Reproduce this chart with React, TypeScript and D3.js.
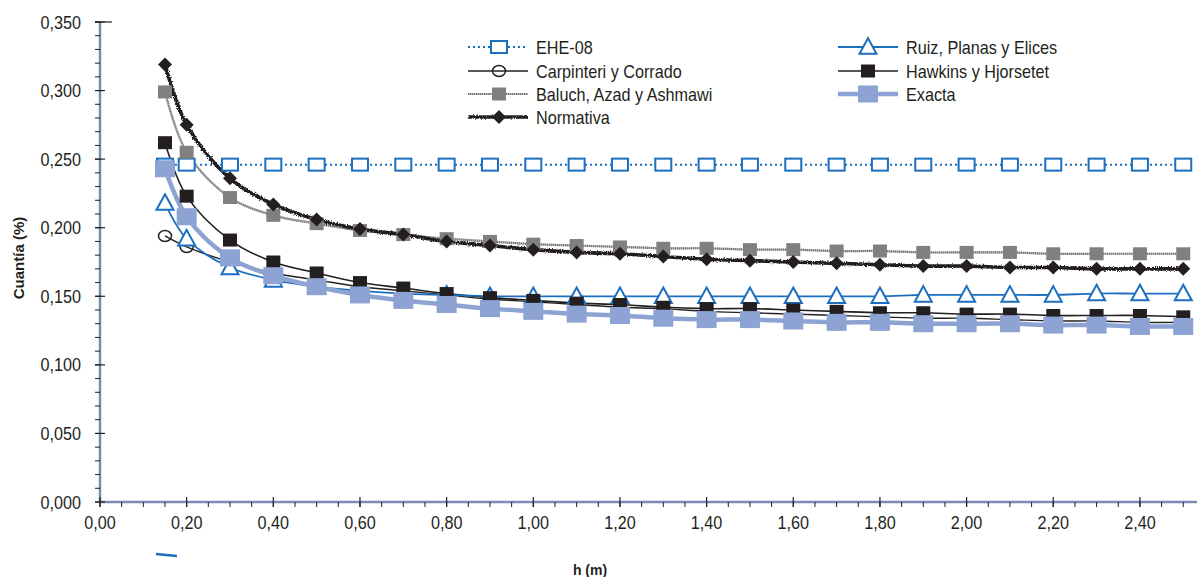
import React from "react";
import * as d3 from "d3";

const H = [0.15, 0.2, 0.3, 0.4, 0.5, 0.6, 0.7, 0.8, 0.9, 1.0, 1.1, 1.2, 1.3, 1.4, 1.5, 1.6, 1.7, 1.8, 1.9, 2.0, 2.1, 2.2, 2.3, 2.4, 2.5];

const ehe08 = [0.246, 0.246, 0.246, 0.246, 0.246, 0.246, 0.246, 0.246, 0.246, 0.246, 0.246, 0.246, 0.246, 0.246, 0.246, 0.246, 0.246, 0.246, 0.246, 0.246, 0.246, 0.246, 0.246, 0.246, 0.246];
const carpinteri = [0.194, 0.186, 0.175, 0.167, 0.162, 0.157, 0.154, 0.151, 0.148, 0.146, 0.144, 0.142, 0.141, 0.139, 0.138, 0.137, 0.136, 0.135, 0.134, 0.134, 0.133, 0.132, 0.132, 0.131, 0.131];
const baluch = [0.299, 0.255, 0.222, 0.209, 0.203, 0.198, 0.195, 0.192, 0.190, 0.188, 0.187, 0.186, 0.185, 0.185, 0.184, 0.184, 0.183, 0.183, 0.182, 0.182, 0.182, 0.181, 0.181, 0.181, 0.181];
const normativa = [0.319, 0.275, 0.236, 0.217, 0.206, 0.199, 0.195, 0.190, 0.187, 0.184, 0.182, 0.181, 0.179, 0.177, 0.176, 0.175, 0.174, 0.173, 0.172, 0.172, 0.171, 0.171, 0.170, 0.170, 0.170];
const ruiz = [0.218, 0.192, 0.171, 0.162, 0.157, 0.154, 0.152, 0.151, 0.150, 0.150, 0.150, 0.150, 0.150, 0.150, 0.150, 0.150, 0.150, 0.150, 0.151, 0.151, 0.151, 0.151, 0.152, 0.152, 0.152];
const hawkins = [0.262, 0.223, 0.191, 0.175, 0.167, 0.160, 0.156, 0.152, 0.149, 0.147, 0.145, 0.144, 0.142, 0.141, 0.141, 0.140, 0.139, 0.138, 0.138, 0.137, 0.137, 0.136, 0.136, 0.136, 0.135];
const exacta = [0.243, 0.208, 0.178, 0.165, 0.157, 0.151, 0.147, 0.144, 0.141, 0.139, 0.137, 0.136, 0.134, 0.133, 0.133, 0.132, 0.131, 0.131, 0.130, 0.130, 0.130, 0.129, 0.129, 0.128, 0.128];

const yTickLabels = ["0,000", "0,050", "0,100", "0,150", "0,200", "0,250", "0,300", "0,350"];
const xTickLabels = ["0,00", "0,20", "0,40", "0,60", "0,80", "1,00", "1,20", "1,40", "1,60", "1,80", "2,00", "2,20", "2,40"];

const W = 1197;
const HT = 577;
const FONT = "'Liberation Sans', Arial, sans-serif";
const SX = 0.9;

const x = d3.scaleLinear().domain([0, 2.6]).range([100, 100 + 2.6 * 433.3]);
const y = d3.scaleLinear().domain([0, 0.35]).range([502, 22]);

const BLUE = "#1b6fbe";
const LBLUE = "#8da3d3";
const GREY = "#808080";
const BLACK = "#231f20";

function pts(vals: number[]): [number, number][] {
  return vals.map((v, i) => [H[i], v]);
}

const lineGen = d3
  .line<[number, number]>()
  .x((d) => x(d[0]))
  .y((d) => y(d[1]))
  .curve(d3.curveCatmullRom.alpha(0.5));

function NText({ x0, y0, anchor, size, children }: any) {
  return (
    <text transform={`translate(${x0},${y0}) scale(${SX},1)`} textAnchor={anchor || "start"} fontSize={size} fill="#231f20">
      {children}
    </text>
  );
}

function Square({ cx, cy, w, h, fill, stroke, sw }: any) {
  return <rect x={cx - w / 2} y={cy - h / 2} width={w} height={h} fill={fill} stroke={stroke || "none"} strokeWidth={sw || 0} />;
}
function Tri({ cx, cy, s }: any) {
  const hh = s * 0.8;
  return (
    <path
      d={`M${cx},${cy - hh / 2 - 2} L${cx + s / 2},${cy + hh / 2} L${cx - s / 2},${cy + hh / 2} Z`}
      fill="white"
      stroke={BLUE}
      strokeWidth={2}
    />
  );
}
function Diamond({ cx, cy, s }: any) {
  return <path d={`M${cx},${cy - s / 2} L${cx + s / 2},${cy} L${cx},${cy + s / 2} L${cx - s / 2},${cy} Z`} fill={BLACK} />;
}
function Circ({ cx, cy }: any) {
  return <ellipse cx={cx} cy={cy} rx={6.5} ry={5.5} fill="none" stroke={BLACK} strokeWidth={1.5} />;
}

export default function App() {
  const yMinor = d3.range(0, 0.3501, 0.01);
  const xMinor = d3.range(0, 2.75, 0.05);
  const xMajor = xTickLabels.map((_, i) => i * 0.2);
  const yMajor = yTickLabels.map((_, i) => i * 0.05);

  const legendL = 468;
  const legendR = 838;
  const rows = [47, 71, 94, 117];

  return (
    <svg width={W} height={HT} style={{ position: "absolute", left: 0, top: 0, background: "white" }} fontFamily={FONT}>
      <defs>
        <filter id="rough" filterUnits="userSpaceOnUse" x={0} y={0} width={W} height={HT}>
          <feTurbulence type="fractalNoise" baseFrequency="0.8" numOctaves="2" seed="3" result="n" />
          <feDisplacementMap in="SourceGraphic" in2="n" scale="3.5" xChannelSelector="R" yChannelSelector="G" />
        </filter>
        <clipPath id="plot">
          <rect x={100} y={0} width={W - 100} height={503} />
        </clipPath>
      </defs>

      {/* axes */}
      <line x1={100} y1={22} x2={100} y2={503} stroke="#7a8cb6" strokeWidth={2.5} />
      <line x1={99} y1={502} x2={W} y2={502} stroke="#7a8cb6" strokeWidth={2.5} />
      <line x1={95} y1={22} x2={112} y2={22} stroke={BLACK} strokeWidth={1.2} />
      {yMinor.map((v, i) => (
        <line key={"ym" + i} x1={95} x2={100} y1={y(v)} y2={y(v)} stroke={BLACK} strokeWidth={1} />
      ))}
      {yMajor.map((v, i) => (
        <line key={"yM" + i} x1={95} x2={105} y1={y(v)} y2={y(v)} stroke={BLACK} strokeWidth={1.2} />
      ))}
      {xMinor.map((v, i) => (
        <line key={"xm" + i} x1={x(v)} x2={x(v)} y1={502} y2={507} stroke={BLACK} strokeWidth={1} />
      ))}
      {xMajor.map((v, i) => (
        <line key={"xM" + i} x1={x(v)} x2={x(v)} y1={497} y2={507} stroke={BLACK} strokeWidth={1.2} />
      ))}
      {yTickLabels.map((t, i) => (
        <NText key={"yl" + i} x0={81} y0={y(yMajor[i]) + 6.5} anchor="end" size={18}>
          {t}
        </NText>
      ))}
      {xTickLabels.map((t, i) => (
        <NText key={"xl" + i} x0={x(xMajor[i])} y0={529} anchor="middle" size={18}>
          {t}
        </NText>
      ))}
      <text x={590} y={575} textAnchor="middle" fontSize={14} fontWeight="bold" fill="#231f20">
        h (m)
      </text>
      <text transform={`translate(24,258) rotate(-90)`} textAnchor="middle" fontSize={15} fontWeight="bold" fill="#231f20">
        Cuantía (%)
      </text>
      <line x1={156} y1={554} x2={177} y2={556} stroke={BLUE} strokeWidth={2.5} />

      <g clipPath="url(#plot)">
        <path d={lineGen(pts(ehe08)) || ""} fill="none" stroke={BLUE} strokeWidth={2} strokeDasharray="2 3" />
        <path d={lineGen(pts(baluch)) || ""} fill="none" stroke="#b5b5b5" strokeWidth={2.2} />
        <path d={lineGen(pts(baluch)) || ""} fill="none" stroke="#777" strokeWidth={2.2} strokeDasharray="1 1" />
        <path d={lineGen(pts(normativa)) || ""} fill="none" stroke={BLACK} strokeWidth={3.6} filter="url(#rough)" />
        <path d={lineGen(pts(carpinteri)) || ""} fill="none" stroke={BLACK} strokeWidth={1.4} />
        <path d={lineGen(pts(hawkins)) || ""} fill="none" stroke={BLACK} strokeWidth={1.6} />
        <path d={lineGen(pts(ruiz)) || ""} fill="none" stroke={BLUE} strokeWidth={1.8} />
        <path d={lineGen(pts(exacta)) || ""} fill="none" stroke={LBLUE} strokeWidth={4.5} />

        {ehe08.map((v, i) => (
          <Square key={"e" + i} cx={x(H[i])} cy={y(v)} w={16} h={12} fill="white" stroke={BLUE} sw={2} />
        ))}
        {baluch.map((v, i) => (
          <Square key={"b" + i} cx={x(H[i])} cy={y(v)} w={14} h={13} fill={GREY} />
        ))}
        {normativa.map((v, i) => (
          <Diamond key={"n" + i} cx={x(H[i])} cy={y(v)} s={14} />
        ))}
        {carpinteri.slice(0, 2).map((v, i) => (
          <Circ key={"c" + i} cx={x(H[i])} cy={y(v)} />
        ))}
        {ruiz.map((v, i) => (
          <Tri key={"r" + i} cx={x(H[i])} cy={y(v)} s={17} />
        ))}
        {hawkins.map((v, i) => (
          <Square key={"h" + i} cx={x(H[i])} cy={y(v)} w={14} h={13} fill={BLACK} />
        ))}
        {exacta.map((v, i) => (
          <Square key={"x" + i} cx={x(H[i])} cy={y(v)} w={20} h={17} fill={LBLUE} />
        ))}
      </g>

      {/* legend */}
      <g>
        <line x1={legendL} x2={legendL + 60} y1={rows[0]} y2={rows[0]} stroke={BLUE} strokeWidth={2} strokeDasharray="2 3" />
        <Square cx={legendL + 31} cy={rows[0]} w={16} h={12} fill="white" stroke={BLUE} sw={2} />
        <NText x0={legendL + 68} y0={rows[0] + 6.5} size={18}>EHE-08</NText>

        <line x1={legendL} x2={legendL + 60} y1={rows[1]} y2={rows[1]} stroke={BLACK} strokeWidth={1.5} />
        <Circ cx={legendL + 31} cy={rows[1]} />
        <NText x0={legendL + 68} y0={rows[1] + 6.5} size={18}>Carpinteri y Corrado</NText>

        <line x1={legendL} x2={legendL + 60} y1={rows[2]} y2={rows[2]} stroke="#b5b5b5" strokeWidth={2.2} />
        <line x1={legendL} x2={legendL + 60} y1={rows[2]} y2={rows[2]} stroke="#777" strokeWidth={2.2} strokeDasharray="1 1" />
        <Square cx={legendL + 31} cy={rows[2]} w={14} h={13} fill={GREY} />
        <NText x0={legendL + 68} y0={rows[2] + 6.5} size={18}>Baluch, Azad y Ashmawi</NText>

        <line x1={legendL} x2={legendL + 60} y1={rows[3]} y2={rows[3]} stroke={BLACK} strokeWidth={3.4} filter="url(#rough)" />
        <Diamond cx={legendL + 31} cy={rows[3]} s={14} />
        <NText x0={legendL + 68} y0={rows[3] + 6.5} size={18}>Normativa</NText>

        <line x1={legendR} x2={legendR + 60} y1={rows[0]} y2={rows[0]} stroke={BLUE} strokeWidth={1.8} />
        <Tri cx={legendR + 30} cy={rows[0]} s={17} />
        <NText x0={legendR + 68} y0={rows[0] + 6.5} size={18}>Ruiz, Planas y Elices</NText>

        <line x1={legendR} x2={legendR + 60} y1={rows[1]} y2={rows[1]} stroke={BLACK} strokeWidth={1.6} />
        <Square cx={legendR + 30} cy={rows[1]} w={14} h={13} fill={BLACK} />
        <NText x0={legendR + 68} y0={rows[1] + 6.5} size={18}>Hawkins y Hjorsetet</NText>

        <line x1={legendR} x2={legendR + 60} y1={rows[2]} y2={rows[2]} stroke={LBLUE} strokeWidth={4.5} />
        <Square cx={legendR + 30} cy={rows[2]} w={20} h={17} fill={LBLUE} />
        <NText x0={legendR + 68} y0={rows[2] + 6.5} size={18}>Exacta</NText>
      </g>
    </svg>
  );
}
